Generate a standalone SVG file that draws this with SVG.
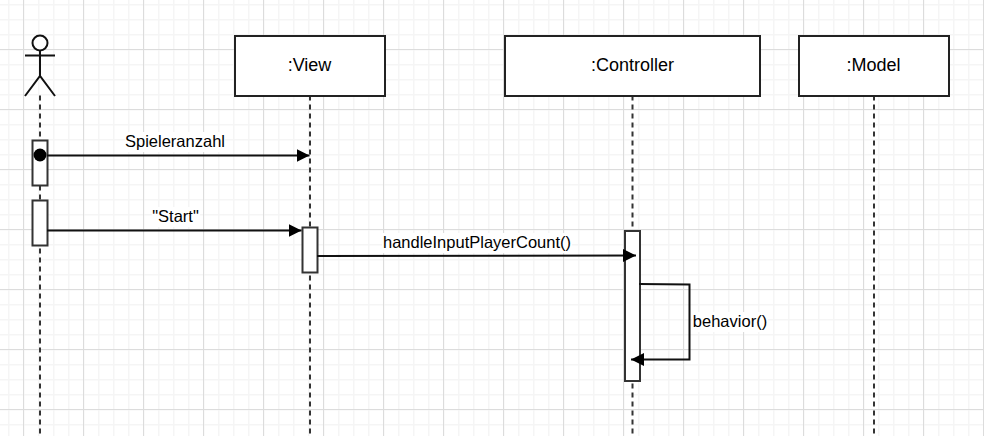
<svg xmlns="http://www.w3.org/2000/svg" width="984" height="436" viewBox="0 0 984 436">
<style>
text{font-family:"Liberation Sans",Arial,sans-serif;font-size:16.5px;fill:#000;text-anchor:middle}
.name{font-size:18px}
.box{fill:#fff;stroke:#222;stroke-width:2}
.bar{fill:#fff;stroke:#333;stroke-width:2}
.life{fill:none;stroke:#333;stroke-width:2;stroke-dasharray:5 4}
.msg{fill:none;stroke:#111;stroke-width:2}
.actor{fill:none;stroke:#111;stroke-width:2}
.lbl{fill:#fff}
</style>
<defs>
<pattern id="minor" width="15" height="15" patternUnits="userSpaceOnUse" x="8" y="4"><path d="M0.500 0V15M0 0.500H15" stroke="#f5f5f5" stroke-width="2" fill="none"/></pattern>
<pattern id="major" width="60" height="60" patternUnits="userSpaceOnUse" x="23" y="49"><path d="M0.500 0V60M0 0.500H60" stroke="#dcdcdc" stroke-width="1" fill="none"/></pattern>
<marker id="arrow" markerUnits="userSpaceOnUse" markerWidth="15" markerHeight="15" refX="13" refY="7" orient="auto"><path d="M0 0.500L13 7L0 13.500Z" fill="#000"/></marker>
</defs>
<rect width="984" height="436" fill="#fff"/>
<rect width="984" height="436" fill="url(#minor)"/>
<rect width="984" height="436" fill="url(#major)"/>
<g id="connectors">
<path class="life" d="M40 95.500V436"/>
<path class="life" d="M310 95.500V436"/>
<path class="life" d="M632.500 95.500V436"/>
<path class="life" d="M874 95.500V436"/>
</g>
<g id="actor"><circle class="actor" cx="40" cy="43" r="7.500" style="fill:#fff"/><path class="actor" d="M40 51V76M25 55.500H55M25 96L40 76L55 96"/></g>
<g id="view"><rect class="box" x="235" y="36" width="150" height="60"/><text class="name" x="309.500" y="71">:View</text></g>
<g id="controller"><rect class="box" x="505" y="36" width="255" height="60"/><text class="name" x="632.500" y="71">:Controller</text></g>
<g id="model"><rect class="box" x="799" y="36" width="150" height="60"/><text class="name" x="873.500" y="71">:Model</text></g>
<g id="act1"><rect class="bar" x="32.500" y="140.500" width="15" height="45"/></g>
<g id="act2"><rect class="bar" x="32.500" y="200.500" width="15" height="45"/></g>
<g id="act3"><rect class="bar" x="302.500" y="227.500" width="15" height="45"/></g>
<g id="act4"><rect class="bar" x="625" y="231" width="15" height="150"/></g>
<g id="messages">
<circle cx="40" cy="155" r="6.500" fill="#000"/>
<path class="msg" d="M47 155.500H309.500" marker-end="url(#arrow)"/>
<path class="msg" d="M47 230.500H301.500" marker-end="url(#arrow)"/>
<path class="msg" d="M317 256L636 255.500" marker-end="url(#arrow)"/>
<path class="msg" d="M639 284L689.500 284.500V359.500H631" marker-end="url(#arrow)"/>
</g>
<g id="labels">
<rect class="lbl" x="125" y="132" width="100" height="20"/><text x="175" y="147">Spieleranzahl</text>
<rect class="lbl" x="152" y="207" width="48" height="20"/><text x="175.500" y="222">"Start"</text>
<rect class="lbl" x="382" y="233" width="190" height="20"/><text x="477" y="248">handleInputPlayerCount()</text>
<rect class="lbl" x="692" y="312" width="76" height="20"/><text x="730" y="327">behavior()</text>
</g>
</svg>
